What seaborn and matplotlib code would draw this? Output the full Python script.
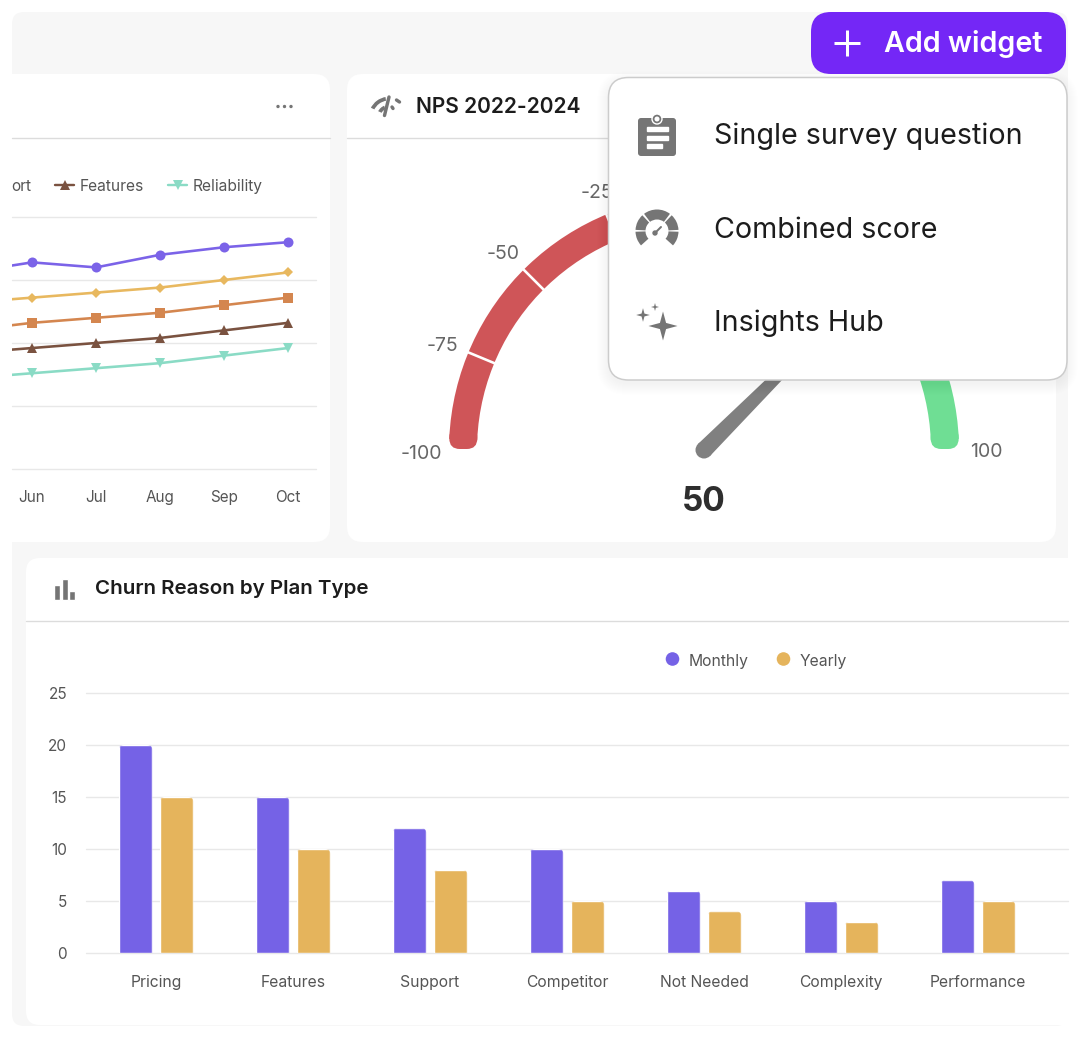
import numpy as np
import pandas as pd
import matplotlib
matplotlib.use("Agg")
import matplotlib.pyplot as plt
import seaborn as sns
from matplotlib.patches import FancyBboxPatch, Wedge, Circle, Polygon, Rectangle
from matplotlib.transforms import IdentityTransform

# Monthly satisfaction drivers
months = ["May", "Jun", "Jul", "Aug", "Sep", "Oct"]
overall = [78, 82, 80, 85, 88, 90]
usability = [66, 68, 70, 72, 75, 78]
support = [55, 58, 60, 62, 65, 68]
features = [46, 48, 50, 52, 55, 58]
reliability = [36, 38, 40, 42, 45, 48]
line_ticks = [0, 25, 50, 75, 100]

# Gauge
nps_value = 50
gauge_ticks = [-100, -75, -50, -25, 0, 25, 50, 75, 100]
gauge_labels = ["-100", "-75", "-50", "-25", "100"]
gauge_bands = [(-100, 0, "#CF5558"), (0, 50, "#E8B65E"), (50, 100, "#6FDE94")]

# Churn reasons
reasons = ["Pricing", "Features", "Support", "Competitor", "Not Needed", "Complexity", "Performance"]
monthly = [20, 15, 12, 10, 6, 5, 7]
yearly = [15, 10, 8, 5, 4, 3, 5]
churn_ticks = [0, 5, 10, 15, 20, 25]

menu_items = ["Single survey question", "Combined score", "Insights Hub"]

PURPLE = "#7562E6"
YELLOW = "#E5B45C"
LINE_COLORS = {"Overall": "#7B63E8", "Usability": "#E8B85F", "Support": "#D4864F",
               "Features": "#7A5240", "Reliability": "#8ADBC5"}
LINE_MARKERS = {"Overall": "o", "Usability": "D", "Support": "s", "Features": "^", "Reliability": "v"}
MARKER_PT = {"Overall": 7.2, "Usability": 5.2, "Support": 7, "Features": 7, "Reliability": 7}
GREY_TEXT = "#555555"
ICON = "#757575"
INK = "#1c1c1c"
RULE = "#dcdcdc"
GRID = "#e8e8e8"

sns.set_theme(style="white")
plt.rcParams["font.family"] = ["Inter", "DejaVu Sans"]

W, H = 1080, 1038
DPI = 100
fig = plt.figure(figsize=(W / DPI, H / DPI), dpi=DPI, facecolor="white")
PT = 72 / DPI


def px_axes(x0, y0, x1, y1, **kw):
    """Axes placed by pixel box, y measured from the top of the figure."""
    return fig.add_axes([x0 / W, 1 - y1 / H, (x1 - x0) / W, (y1 - y0) / H], **kw)


chrome = px_axes(0, 0, W, H, zorder=0)
chrome.set_xlim(0, W)
chrome.set_ylim(H, 0)
chrome.axis("off")


def box(x0, y0, x1, y1, r, fc, ec="none", lw=0, z=2, alpha=None):
    p = FancyBboxPatch((x0, y0), x1 - x0, y1 - y0, boxstyle=f"round,pad=0,rounding_size={r}",
                       fc=fc, ec=ec, lw=lw, zorder=z, alpha=alpha)
    chrome.add_patch(p)
    return p


def label(x, y, s, size, color=GREY_TEXT, weight="normal", ha="left", z=5, **kw):
    # Nudged down a little: centring on the text box sits above the optical middle
    return chrome.text(x, y + size * 0.1, s, fontsize=size, color=color, fontweight=weight, ha=ha,
                       va="center", zorder=z, **kw)


def star(cx, cy, r, z=23):
    angles = np.deg2rad(np.arange(0, 360, 45))
    radii = np.where(np.arange(8) % 2 == 0, r, r * 0.3)
    chrome.add_patch(Polygon(np.c_[cx + radii * np.cos(angles), cy + radii * np.sin(angles)],
                             closed=True, fc=ICON, ec="none", zorder=z))


# Dashboard background and cards
box(12, 12, 1068, 1026, 12, "#f7f7f7", z=1)
box(-30, 74, 330, 542, 16, "white")
box(347, 74, 1056, 542, 16, "white")
box(26, 558, 1110, 1025, 14, "white")
chrome.plot([12, 330], [137.5, 137.5], color=RULE, lw=1, zorder=3)
chrome.plot([347, 1056], [137.5, 137.5], color=RULE, lw=1, zorder=3)
chrome.plot([26, 1068], [621, 621], color=RULE, lw=1, zorder=3)

# Card header furniture
for dx in (278, 284.5, 291):
    chrome.add_patch(Circle((dx, 106.5), 2.4, fc=ICON, zorder=4))
label(416, 105, "NPS 2022-2024", 15.1, INK, "semibold")
label(95, 588, "Churn Reason by Plan Type", 14.8, INK, "semibold")
for x0, x1, top in [(54, 59.5, 585), (61.5, 67.5, 579), (69, 75, 591)]:
    chrome.add_patch(Rectangle((x0, top), x1 - x0, 600 - top, fc=ICON, zorder=4))

# Signal icon beside the gauge title
for r, a0, a1 in [(21, 205, 262), (13, 205, 250)]:
    chrome.add_patch(Wedge((389, 117), r, a0, a1, width=5.2, fc=ICON, zorder=4))
chrome.plot([389, 384.5], [97, 115.5], color=ICON, lw=3.4 * PT, solid_capstyle="round", zorder=4)
chrome.plot([396.5, 399.5], [100, 102], color=ICON, lw=3.4 * PT, zorder=4)
chrome.plot([392, 393], [107, 108.5], color=ICON, lw=3.4 * PT, zorder=4)

# Line chart legend: the first entry runs under the panel edge
label(31, 185, "ort", 11.1, GREY_TEXT, ha="right")
for name, x_line, x_txt in [("Features", 55, 80), ("Reliability", 168, 193)]:
    chrome.plot([x_line, x_line + 19], [185, 185], color=LINE_COLORS[name], lw=2.4 * PT, zorder=4)
    chrome.plot([x_line + 9.5], [185], marker=LINE_MARKERS[name], ms=MARKER_PT[name],
                mew=0, color=LINE_COLORS[name], zorder=4)
    label(x_txt, 185, name, 11.2)

# Line chart
series = {"Overall": overall, "Usability": usability, "Support": support,
          "Features": features, "Reliability": reliability}
trend = pd.DataFrame([
    {"month": m, "driver": name, "score": v}
    for name, vals in series.items() for m, v in zip(months, vals)
])
ax_line = px_axes(12, 217, 316, 469, zorder=3)
ax_line.patch.set_alpha(0)
sns.lineplot(data=trend, x="month", y="score", hue="driver", style="driver",
             palette=LINE_COLORS, markers=LINE_MARKERS, dashes=False, legend=False,
             linewidth=2.6 * PT, markeredgewidth=0, markersize=7, ax=ax_line, zorder=3)
for ln, name in zip(ax_line.lines, series):
    ln.set_markersize(MARKER_PT[name])
ax_line.set_xlim(0.6875, 5.4375)
ax_line.set_ylim(line_ticks[0], line_ticks[-1])
ax_line.set_xticks(range(1, 6), months[1:])
ax_line.set_yticks(line_ticks, [""] * len(line_ticks))
ax_line.set_xlabel("")
ax_line.set_ylabel("")
ax_line.grid(axis="y", color=GRID, lw=1)
ax_line.set_axisbelow(True)
for g in ax_line.get_ygridlines():
    g.set_clip_on(False)
ax_line.tick_params(axis="x", length=0, pad=15.2, labelsize=11, labelcolor=GREY_TEXT)
ax_line.tick_params(axis="y", length=0)
sns.despine(ax=ax_line, left=True, bottom=True)

# Gauge, drawn on a half circle from -100 on the left to 100 on the right
CX, CY = 704, 450
R_OUT, R_WIDTH = 255, 28
CAP_DEG = 2.5


def gauge_theta(v):
    return 180 + (v + 100) * 0.9


for lo, hi, col in gauge_bands:
    t0 = max(gauge_theta(lo), 180 + CAP_DEG)
    t1 = min(gauge_theta(hi), 360 - CAP_DEG)
    chrome.add_patch(Wedge((CX, CY), R_OUT, t0, t1, width=R_WIDTH, fc=col, ec="none", zorder=4))
# Rounded feet at both ends of the arc
box(CX - R_OUT + 0.3, CY - 23, CX - R_OUT + R_WIDTH + 0.3, CY - 1, 10.5, gauge_bands[0][2], z=4)
box(CX + R_OUT - R_WIDTH - 0.3, CY - 23, CX + R_OUT - 0.3, CY - 1, 10.5, gauge_bands[-1][2], z=4)
for v in gauge_ticks[1:-1]:
    t = np.deg2rad(gauge_theta(v))
    chrome.plot([CX + (R_OUT - R_WIDTH - 2) * np.cos(t), CX + (R_OUT + 2) * np.cos(t)],
                [CY + (R_OUT - R_WIDTH - 2) * np.sin(t), CY + (R_OUT + 2) * np.sin(t)],
                color="white", lw=2.6 * PT, zorder=4.5)
for s, (x, y) in zip(gauge_labels, [(421, 453), (442, 345), (503.5, 253), (597, 192), (986, 451)]):
    label(x, y, s, 14, "#666666", ha="center")

# Needle pointing at the score
t = np.deg2rad(gauge_theta(nps_value))
ux, uy = np.cos(t), np.sin(t)
nx, ny = -uy, ux
needle_len = 150
base_w, tip_w = 8.5, 4.5
chrome.add_patch(Polygon([(CX + nx * base_w, CY + ny * base_w), (CX - nx * base_w, CY - ny * base_w),
                          (CX + ux * needle_len - nx * tip_w, CY + uy * needle_len - ny * tip_w),
                          (CX + ux * needle_len + nx * tip_w, CY + uy * needle_len + ny * tip_w)],
                         closed=True, fc="#808080", ec="none", zorder=5))
chrome.add_patch(Circle((CX, CY), base_w, fc="#808080", ec="none", zorder=5))
label(CX, 500, str(nps_value), 24, "#2e2e2e", "bold", ha="center")

# Add widget button
box(811, 12, 1066, 74, 20, "#7427F6", z=20)
chrome.plot([834, 860], [43, 43], color="white", lw=3 * PT, zorder=21, solid_capstyle="butt")
chrome.plot([847, 847], [30, 56], color="white", lw=3 * PT, zorder=21, solid_capstyle="butt")
label(884, 42, "Add widget", 20.7, "white", "semibold", z=21)

# Dropdown menu with a soft shadow
for i in range(12):
    box(608 - i, 78 - i + 4, 1067 + i, 380 + i + 4, 20 + i, "black", z=18, alpha=0.005)
box(608.5, 77.5, 1067, 380, 20, "white", ec="#cccccc", lw=1.5 * PT, z=20)
for s, y in zip(menu_items, [134, 228, 321]):
    label(714, y, s, 20.6, INK, z=22)

# Clipboard icon
box(638, 118, 676, 156, 3, ICON, z=23)
chrome.add_patch(Circle((657, 119), 5, fc=ICON, zorder=23))
chrome.add_patch(Circle((657, 119), 1.8, fc="white", zorder=24))
for top, x1 in [(127, 668), (136, 668), (144, 662)]:
    chrome.add_patch(Rectangle((647, top), x1 - 647, 4, fc="white", zorder=24))

# Speedometer icon
for a0, a1 in [(-42, -2), (3, 47), (53, 127), (133, 177), (182, 222)]:
    chrome.add_patch(Wedge((657, 231), 21.5, -a1, -a0, width=10, fc=ICON, ec="none", zorder=23))
chrome.add_patch(Circle((655, 233), 3.4, fc=ICON, zorder=23))
chrome.plot([655, 661], [233, 227], color=ICON, lw=2 * PT, zorder=23)

# Sparkle icon
star(663, 326, 14.5)
star(643, 315, 6.8)
star(655, 307, 4)

# Grouped bar chart
churn = pd.DataFrame({
    "reason": reasons * 2,
    "plan": ["Monthly"] * len(reasons) + ["Yearly"] * len(reasons),
    "count": monthly + yearly,
})
ax_bar = px_axes(86, 693, 1068, 953, zorder=3)
ax_bar.patch.set_alpha(0)
sns.barplot(data=churn, x="reason", y="count", hue="plan", order=reasons,
            palette={"Monthly": PURPLE, "Yearly": YELLOW}, width=0.5985, gap=0.18,
            legend=False, ax=ax_bar, zorder=3, saturation=1)
ax_bar.set_xlim(-70 / 137, 912 / 137)
ax_bar.set_ylim(churn_ticks[0], churn_ticks[-1])
ax_bar.set_yticks(churn_ticks)
ax_bar.set_xlabel("")
ax_bar.set_ylabel("")
ax_bar.grid(axis="y", color=GRID, lw=1)
ax_bar.set_axisbelow(True)
for g in ax_bar.get_ygridlines():
    g.set_clip_on(False)
ax_bar.tick_params(axis="x", length=0, pad=15.5, labelsize=11.3, labelcolor=GREY_TEXT)
ax_bar.tick_params(axis="y", length=0, pad=13.5, labelsize=11, labelcolor=GREY_TEXT)
sns.despine(ax=ax_bar, left=True, bottom=True)

# Round the top corners of every bar
for bar in ax_bar.patches:
    bb = bar.get_window_extent(fig.canvas.get_renderer())
    rounded = FancyBboxPatch((bb.x0, bb.y0 - 10), bb.width, bb.height + 10,
                             boxstyle="round,pad=0,rounding_size=5", transform=IdentityTransform())
    bar.set_clip_path(rounded)

# Bar chart legend
for s, xc, col in [("Monthly", 672.5, PURPLE), ("Yearly", 783.5, YELLOW)]:
    chrome.add_patch(Circle((xc, 659), 7.5, fc=col, zorder=4))
    label(xc + 16.5, 660, s, 11.3)

fig.savefig("out.png", dpi=DPI, facecolor="white")
